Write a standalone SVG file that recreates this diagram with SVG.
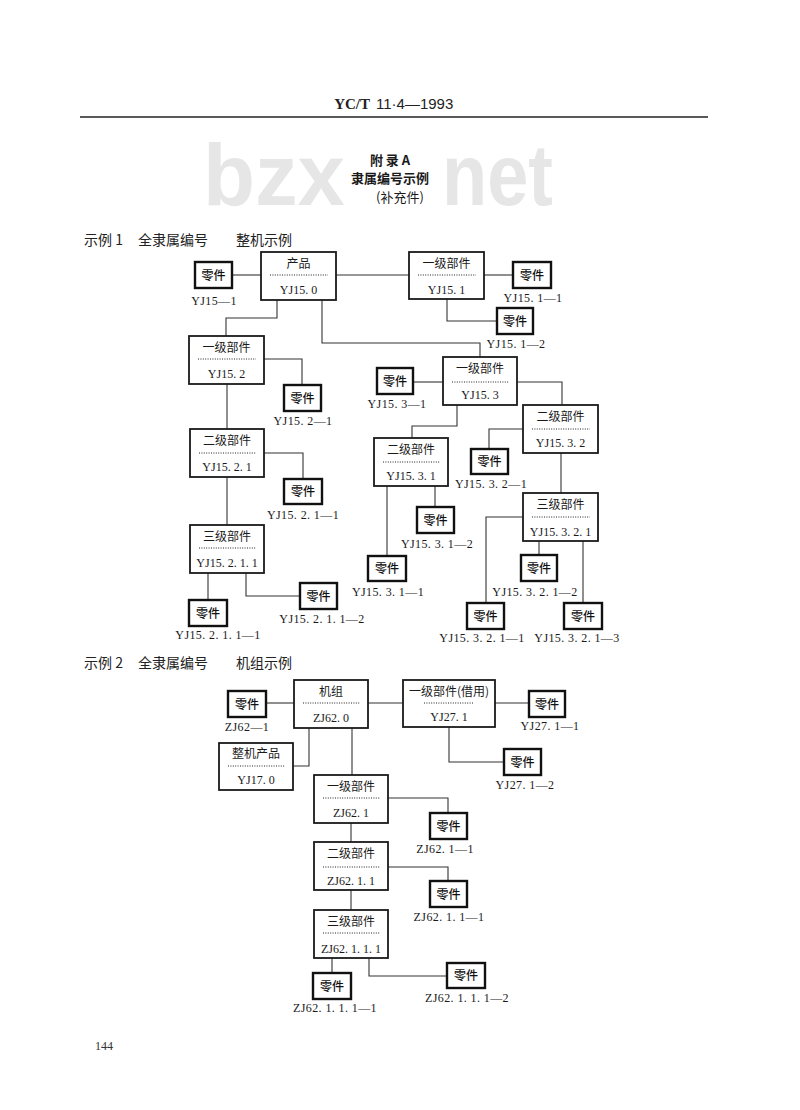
<svg xmlns="http://www.w3.org/2000/svg" width="800" height="1110" viewBox="0 0 800 1110">
<style>
.bg{fill:#fff}
.box{fill:#fff;stroke:#1a1a1a;stroke-width:1.8}
.part{fill:#fff;stroke:#111;stroke-width:2.4}
.ln{fill:none;stroke:#333;stroke-width:1.1}
.dot{stroke:#222;stroke-width:1;stroke-dasharray:1 1.4}
.t{font-family:"Liberation Serif","Noto Sans CJK SC",serif;font-size:12px;fill:#1a1a1a;text-anchor:middle}
.cn{font-family:"Noto Sans CJK SC",sans-serif;font-size:12px;fill:#1a1a1a;text-anchor:middle}
.pn{font-family:"Noto Sans CJK SC",sans-serif;font-size:12px;font-weight:500;fill:#111;text-anchor:middle}
.lab{font-family:"Liberation Serif","Noto Sans CJK SC",serif;font-size:12px;fill:#1a1a1a;text-anchor:middle;letter-spacing:0.4px}
.hd{font-family:"Noto Sans CJK SC",sans-serif;font-size:14px;fill:#222}
.wm{font-family:"Liberation Sans",sans-serif;font-weight:700;font-size:88px;fill:#e6e6e6}
</style>
<rect class="bg" x="0" y="0" width="800" height="1110"/>

<g id="page-header">
<text x="370" y="109" style="font-family:'Liberation Serif',serif;font-weight:700;font-size:15px;fill:#222" text-anchor="end">YC/T</text>
<text x="376" y="109" style="font-family:'Liberation Sans',sans-serif;font-size:15px;fill:#222">11·4—1993</text>
<line x1="80" y1="117" x2="708" y2="117" stroke="#222" stroke-width="1.4"/>
</g>

<g id="watermark">
<text class="wm" x="203" y="205" textLength="142" lengthAdjust="spacingAndGlyphs">bzx</text>
<text class="wm" x="442" y="205" textLength="111" lengthAdjust="spacingAndGlyphs">net</text>
</g>

<g id="title">
<text x="390" y="165" style="font-family:'Noto Sans CJK SC',sans-serif;font-weight:700;font-size:13px;fill:#1a1a1a" text-anchor="middle">附   录   A</text>
<text x="390" y="183" style="font-family:'Noto Sans CJK SC',sans-serif;font-weight:700;font-size:13px;fill:#1a1a1a" text-anchor="middle">隶属编号示例</text>
<text x="400" y="202" style="font-family:'Noto Sans CJK SC',sans-serif;font-size:13px;fill:#1a1a1a" text-anchor="middle">(补充件)</text>
</g>

<g id="section1-label">
<text class="hd" x="84" y="245">示例 1</text>
<text class="hd" x="138" y="245">全隶属编号</text>
<text class="hd" x="236" y="245">整机示例</text>
</g>
<g id="section2-label">
<text class="hd" x="84" y="668">示例 2</text>
<text class="hd" x="138" y="668">全隶属编号</text>
<text class="hd" x="236" y="668">机组示例</text>
</g>

<g id="connectors">
<polyline class="ln" points="232,275 261,275"/>
<polyline class="ln" points="336,275 409,275"/>
<polyline class="ln" points="277,300 277,318 226,318 226,336"/>
<polyline class="ln" points="322,300 322,343 480,343 480,357"/>
<polyline class="ln" points="484,275 513,275"/>
<polyline class="ln" points="447,299 447,321 497,321"/>
<polyline class="ln" points="264,359 302,359 302,385"/>
<polyline class="ln" points="227,384 227,429"/>
<polyline class="ln" points="413,382 443,382"/>
<polyline class="ln" points="517,382 562,382 562,405"/>
<polyline class="ln" points="264,453 303,453 303,479"/>
<polyline class="ln" points="227,477 227,525"/>
<polyline class="ln" points="208,573 208,600"/>
<polyline class="ln" points="246,573 246,596 300,596"/>
<polyline class="ln" points="457,405 457,426 412,426 412,438"/>
<polyline class="ln" points="387,486 387,556"/>
<polyline class="ln" points="435,486 435,507"/>
<polyline class="ln" points="523,429 489,429 489,449"/>
<polyline class="ln" points="561,453 561,493"/>
<polyline class="ln" points="523,517 486,517 486,603"/>
<polyline class="ln" points="539,541 539,555"/>
<polyline class="ln" points="583,541 583,603"/>

<polyline class="ln" points="266,703 294,703"/>
<polyline class="ln" points="368,703 403,703"/>
<polyline class="ln" points="309,728 309,766 293,766"/>
<polyline class="ln" points="352,728 352,775"/>
<polyline class="ln" points="495,703 529,703"/>
<polyline class="ln" points="449,727 449,762 504,762"/>
<polyline class="ln" points="388,798 448,798 448,813"/>
<polyline class="ln" points="351,823 351,842"/>
<polyline class="ln" points="388,867 448,867 448,881"/>
<polyline class="ln" points="351,890 351,910"/>
<polyline class="ln" points="332,958 332,973"/>
<polyline class="ln" points="369,958 369,976 447,976"/>
</g>

<!-- Example 1 nodes -->
<g id="e1-part-YJ15-1"><rect class="part" x="195" y="262" width="37" height="26"/><text class="pn" x="213.5" y="279.5">零件</text><text class="lab" x="214" y="305">YJ15—1</text></g>
<g id="e1-YJ15.0"><rect class="box" x="261" y="252" width="75" height="48"/><text class="cn" x="298.5" y="268">产品</text><line class="dot" x1="270" y1="275" x2="328" y2="275"/><text class="t" x="298.5" y="294">YJ15. 0</text></g>
<g id="e1-YJ15.1"><rect class="box" x="409" y="252" width="75" height="47"/><text class="cn" x="446.5" y="268">一级部件</text><line class="dot" x1="418" y1="275" x2="476" y2="275"/><text class="t" x="446.5" y="294">YJ15. 1</text></g>
<g id="e1-part-YJ15.1-1"><rect class="part" x="513" y="262" width="38" height="26"/><text class="pn" x="532" y="279.5">零件</text><text class="lab" x="533" y="302">YJ15. 1—1</text></g>
<g id="e1-part-YJ15.1-2"><rect class="part" x="497" y="308" width="36" height="26"/><text class="pn" x="515" y="325.5">零件</text><text class="lab" x="516" y="348">YJ15. 1—2</text></g>
<g id="e1-YJ15.2"><rect class="box" x="189" y="336" width="75" height="48"/><text class="cn" x="226.5" y="352">一级部件</text><line class="dot" x1="198" y1="359" x2="256" y2="359"/><text class="t" x="226.5" y="378">YJ15. 2</text></g>
<g id="e1-part-YJ15.2-1"><rect class="part" x="284" y="385" width="37" height="26"/><text class="pn" x="302.5" y="402.5">零件</text><text class="lab" x="303" y="425">YJ15. 2—1</text></g>
<g id="e1-YJ15.2.1"><rect class="box" x="190" y="429" width="74" height="48"/><text class="cn" x="227" y="445">二级部件</text><line class="dot" x1="199" y1="453" x2="256" y2="453"/><text class="t" x="227" y="471">YJ15. 2. 1</text></g>
<g id="e1-part-YJ15.2.1-1"><rect class="part" x="284" y="479" width="38" height="25"/><text class="pn" x="303" y="496">零件</text><text class="lab" x="303" y="519">YJ15. 2. 1—1</text></g>
<g id="e1-YJ15.2.1.1"><rect class="box" x="190" y="525" width="74" height="48"/><text class="cn" x="227" y="541">三级部件</text><line class="dot" x1="199" y1="548" x2="256" y2="548"/><text class="t" x="227" y="567">YJ15. 2. 1. 1</text></g>
<g id="e1-part-YJ15.2.1.1-1"><rect class="part" x="189" y="600" width="38" height="26"/><text class="pn" x="208" y="617.5">零件</text><text class="lab" x="218" y="639">YJ15. 2. 1. 1—1</text></g>
<g id="e1-part-YJ15.2.1.1-2"><rect class="part" x="300" y="583" width="37" height="26"/><text class="pn" x="318.5" y="600.5">零件</text><text class="lab" x="322" y="623">YJ15. 2. 1. 1—2</text></g>
<g id="e1-YJ15.3"><rect class="box" x="443" y="357" width="74" height="48"/><text class="cn" x="480" y="373">一级部件</text><line class="dot" x1="452" y1="382" x2="509" y2="382"/><text class="t" x="480" y="399">YJ15. 3</text></g>
<g id="e1-part-YJ15.3-1"><rect class="part" x="377" y="368" width="36" height="26"/><text class="pn" x="395" y="385.5">零件</text><text class="lab" x="397" y="408">YJ15. 3—1</text></g>
<g id="e1-YJ15.3.1"><rect class="box" x="374" y="438" width="74" height="48"/><text class="cn" x="411" y="454">二级部件</text><line class="dot" x1="383" y1="462" x2="440" y2="462"/><text class="t" x="411" y="480">YJ15. 3. 1</text></g>
<g id="e1-part-YJ15.3.1-1"><rect class="part" x="368" y="556" width="38" height="25"/><text class="pn" x="387" y="573">零件</text><text class="lab" x="388" y="596">YJ15. 3. 1—1</text></g>
<g id="e1-part-YJ15.3.1-2"><rect class="part" x="417" y="507" width="37" height="26"/><text class="pn" x="435.5" y="524.5">零件</text><text class="lab" x="437" y="548">YJ15. 3. 1—2</text></g>
<g id="e1-YJ15.3.2"><rect class="box" x="523" y="405" width="75" height="48"/><text class="cn" x="560.5" y="421">二级部件</text><line class="dot" x1="532" y1="429" x2="590" y2="429"/><text class="t" x="560.5" y="447">YJ15. 3. 2</text></g>
<g id="e1-part-YJ15.3.2-1"><rect class="part" x="471" y="449" width="37" height="25"/><text class="pn" x="489.5" y="466">零件</text><text class="lab" x="491" y="488">YJ15. 3. 2—1</text></g>
<g id="e1-YJ15.3.2.1"><rect class="box" x="523" y="493" width="75" height="48"/><text class="cn" x="560.5" y="509">三级部件</text><line class="dot" x1="532" y1="517" x2="590" y2="517"/><text class="t" x="560.5" y="536">YJ15. 3. 2. 1</text></g>
<g id="e1-part-YJ15.3.2.1-1"><rect class="part" x="467" y="603" width="37" height="26"/><text class="pn" x="485.5" y="620.5">零件</text><text class="lab" x="482" y="642">YJ15. 3. 2. 1—1</text></g>
<g id="e1-part-YJ15.3.2.1-2"><rect class="part" x="521" y="555" width="36" height="26"/><text class="pn" x="539" y="572.5">零件</text><text class="lab" x="535" y="596">YJ15. 3. 2. 1—2</text></g>
<g id="e1-part-YJ15.3.2.1-3"><rect class="part" x="564" y="603" width="38" height="26"/><text class="pn" x="583" y="620.5">零件</text><text class="lab" x="577" y="642">YJ15. 3. 2. 1—3</text></g>

<!-- Example 2 nodes -->
<g id="e2-part-ZJ62-1"><rect class="part" x="228" y="691" width="38" height="26"/><text class="pn" x="247" y="708.5">零件</text><text class="lab" x="247" y="731">ZJ62—1</text></g>
<g id="e2-ZJ62.0"><rect class="box" x="294" y="680" width="74" height="48"/><text class="cn" x="331" y="696">机组</text><line class="dot" x1="303" y1="703" x2="360" y2="703"/><text class="t" x="331" y="722">ZJ62. 0</text></g>
<g id="e2-YJ17.0"><rect class="box" x="219" y="743" width="74" height="47"/><text class="cn" x="256" y="758">整机产品</text><line class="dot" x1="228" y1="766" x2="285" y2="766"/><text class="t" x="256" y="784">YJ17. 0</text></g>
<g id="e2-YJ27.1"><rect class="box" x="403" y="680" width="92" height="47"/><text class="cn" x="449" y="696">一级部件(借用)</text><line class="dot" x1="424" y1="703" x2="474" y2="703"/><text class="t" x="449" y="721">YJ27. 1</text></g>
<g id="e2-part-YJ27.1-1"><rect class="part" x="529" y="691" width="36" height="26"/><text class="pn" x="547" y="708.5">零件</text><text class="lab" x="550" y="730">YJ27. 1—1</text></g>
<g id="e2-part-YJ27.1-2"><rect class="part" x="504" y="749" width="37" height="26"/><text class="pn" x="522.5" y="766.5">零件</text><text class="lab" x="525" y="789">YJ27. 1—2</text></g>
<g id="e2-ZJ62.1"><rect class="box" x="314" y="775" width="74" height="48"/><text class="cn" x="351" y="791">一级部件</text><line class="dot" x1="323" y1="798" x2="380" y2="798"/><text class="t" x="351" y="817">ZJ62. 1</text></g>
<g id="e2-part-ZJ62.1-1"><rect class="part" x="430" y="813" width="37" height="26"/><text class="pn" x="448.5" y="830.5">零件</text><text class="lab" x="445" y="853">ZJ62. 1—1</text></g>
<g id="e2-ZJ62.1.1"><rect class="box" x="314" y="842" width="74" height="48"/><text class="cn" x="351" y="858">二级部件</text><line class="dot" x1="323" y1="867" x2="380" y2="867"/><text class="t" x="351" y="885">ZJ62. 1. 1</text></g>
<g id="e2-part-ZJ62.1.1-1"><rect class="part" x="430" y="881" width="37" height="26"/><text class="pn" x="448.5" y="898.5">零件</text><text class="lab" x="449" y="921">ZJ62. 1. 1—1</text></g>
<g id="e2-ZJ62.1.1.1"><rect class="box" x="314" y="910" width="74" height="48"/><text class="cn" x="351" y="926">三级部件</text><line class="dot" x1="323" y1="933" x2="380" y2="933"/><text class="t" x="351" y="953">ZJ62. 1. 1. 1</text></g>
<g id="e2-part-ZJ62.1.1.1-1"><rect class="part" x="313" y="973" width="38" height="26"/><text class="pn" x="332" y="990.5">零件</text><text class="lab" x="335" y="1012">ZJ62. 1. 1. 1—1</text></g>
<g id="e2-part-ZJ62.1.1.1-2"><rect class="part" x="447" y="963" width="38" height="25"/><text class="pn" x="466" y="980">零件</text><text class="lab" x="467" y="1002">ZJ62. 1. 1. 1—2</text></g>

<text id="page-number" x="95" y="1050" style="font-family:'Liberation Serif',serif;font-size:12px;fill:#333">144</text>
</svg>
